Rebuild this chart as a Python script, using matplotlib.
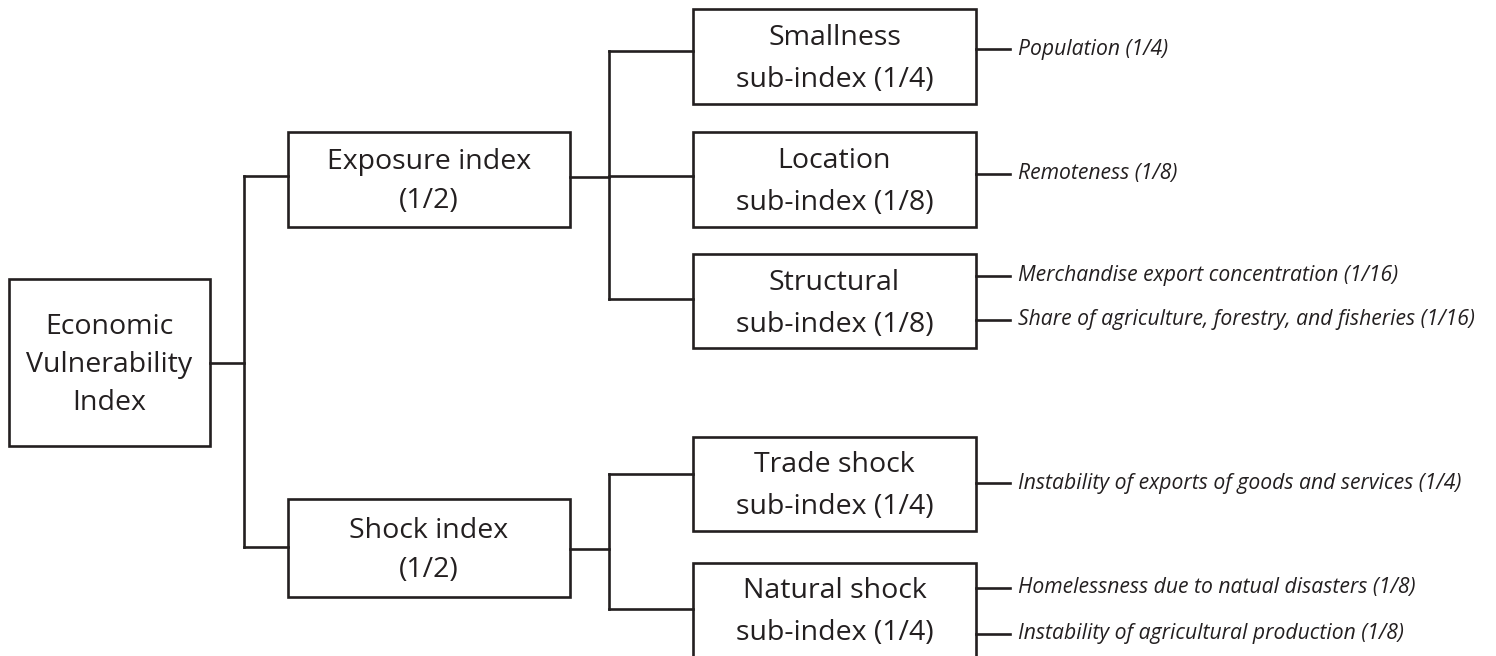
import matplotlib
matplotlib.use("Agg")
import matplotlib.pyplot as plt
from matplotlib.patches import Rectangle

# tree content
root_label = ["Economic", "Vulnerability", "Index"]
index_labels = [["Exposure index", "(1/2)"], ["Shock index", "(1/2)"]]
sub_labels = [["Smallness", "sub-index (1/4)"],
              ["Location", "sub-index (1/8)"],
              ["Structural", "sub-index (1/8)"],
              ["Trade shock", "sub-index (1/4)"],
              ["Natural shock", "sub-index (1/4)"]]
sub_parent = [0, 0, 0, 1, 1]
indicator_labels = [["Population (1/4)"],
                    ["Remoteness (1/8)"],
                    ["Merchandise export concentration (1/16)",
                     "Share of agriculture, forestry, and fisheries (1/16)"],
                    ["Instability of exports of goods and services (1/4)"],
                    ["Homelessness due to natual disasters (1/8)",
                     "Instability of agricultural production (1/8)"]]

# layout in pixel units (y downwards)
root_box = (9, 279, 210, 446)
index_x = (288, 570)
index_y = [(132, 227), (499, 597)]
sub_x = (693, 976)
sub_y = [(9, 104), (132, 227), (254, 348), (437, 531), (563, 657)]
root_out_y = 363
spine1_x = 244
index_in_y = [176, 547]
index_out_y = [177, 549]
spine2_x = 609
sub_in_y = [51, 176, 299, 474, 609]
leaf_y = [[49], [174], [276, 320], [483], [588, 634]]
leaf_line_end = 1010
leaf_text_x = 1018

ink = "#231f20"
lw = 1.9
box_font = "Open Sans"
box_size = 20.5
leaf_size = 15.2

fig = plt.figure(figsize=(14.96, 6.56), dpi=100)
ax = fig.add_axes([0, 0, 1, 1])
ax.set_xlim(0, 1496)
ax.set_ylim(656, 0)
ax.axis("off")


def box(x0, x1, y0, y1, lines, spacing):
    ax.add_patch(Rectangle((x0, y0), x1 - x0, y1 - y0, fill=False,
                           edgecolor=ink, linewidth=lw, clip_on=False))
    cx = (x0 + x1) / 2
    cy = (y0 + y1) / 2 - 1
    n = len(lines)
    for i, t in enumerate(lines):
        ax.text(cx, cy + (i - (n - 1) / 2) * spacing, t, ha="center",
                va="center_baseline", fontsize=box_size, family=box_font,
                color=ink)


def hline(x0, x1, y):
    ax.plot([x0, x1], [y, y], color=ink, lw=lw, solid_capstyle="projecting")


def vline(x, y0, y1):
    ax.plot([x, x], [y0, y1], color=ink, lw=lw, solid_capstyle="projecting")


# root
box(root_box[0], root_box[2], root_box[1], root_box[3], root_label, 38.5)
hline(root_box[2], spine1_x, root_out_y)
vline(spine1_x, min(index_in_y), max(index_in_y))

# index level
for k, lab in enumerate(index_labels):
    y0, y1 = index_y[k]
    box(index_x[0], index_x[1], y0, y1, lab, 39)
    hline(spine1_x, index_x[0], index_in_y[k])
    hline(index_x[1], spine2_x, index_out_y[k])
    kids = [sub_in_y[j] for j in range(len(sub_labels)) if sub_parent[j] == k]
    vline(spine2_x, min(kids), max(kids))

# sub-index level and indicators
for j, lab in enumerate(sub_labels):
    y0, y1 = sub_y[j]
    box(sub_x[0], sub_x[1], y0, y1, lab, 42)
    hline(spine2_x, sub_x[0], sub_in_y[j])
    for t, y in zip(indicator_labels[j], leaf_y[j]):
        hline(sub_x[1], leaf_line_end, y)
        ax.text(leaf_text_x, y, t, ha="left", va="center", fontsize=leaf_size,
                family=box_font, style="italic", color=ink)

fig.savefig("out.png", dpi=100)
